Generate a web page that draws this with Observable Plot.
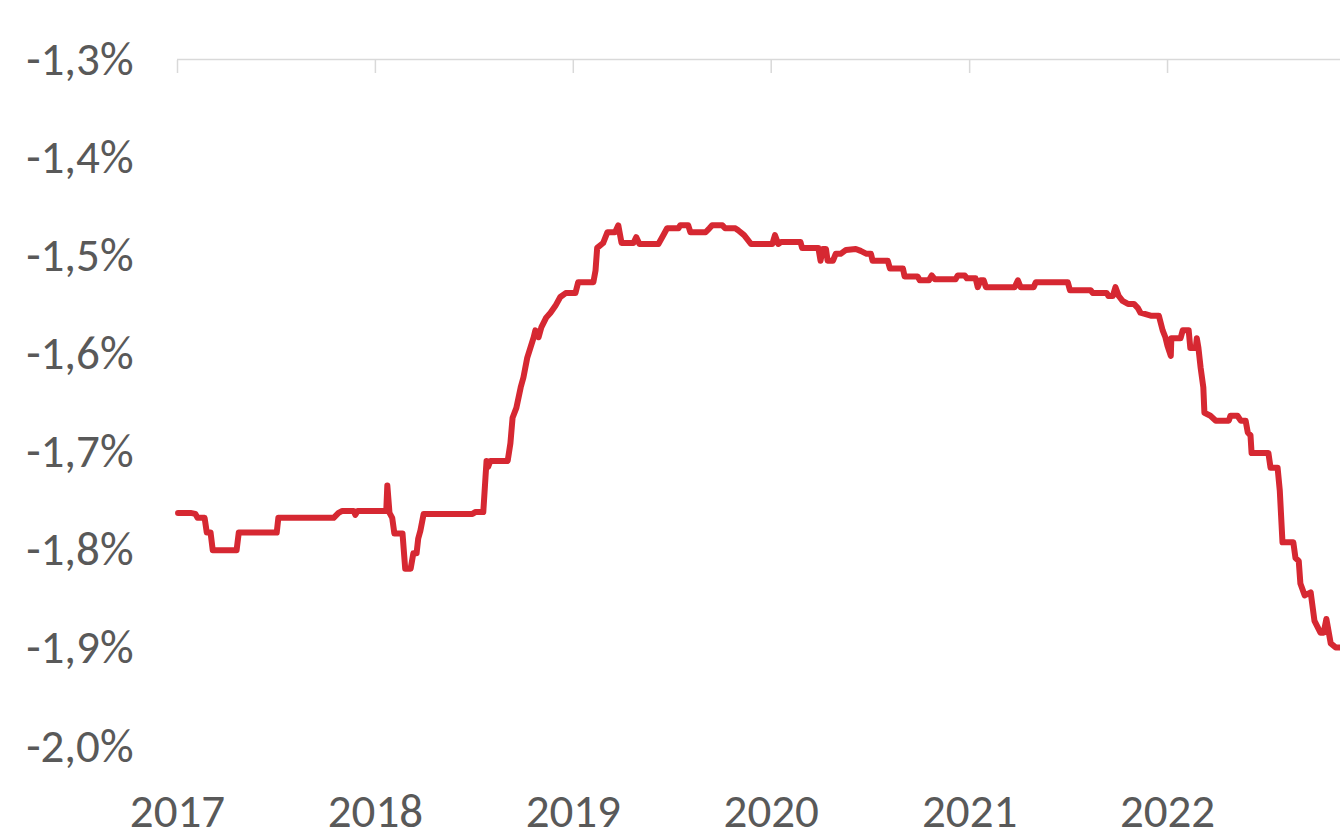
<!DOCTYPE html>
<html>
<head>
<meta charset="utf-8">
<script src="https://cdn.jsdelivr.net/npm/d3@7"></script>
<script src="https://cdn.jsdelivr.net/npm/@observablehq/plot@0.6"></script>
<style>
  html, body { margin: 0; padding: 0; background: #ffffff; }
  #chart svg { display: block; }
</style>
</head>
<body>
<div id="chart"></div>
<script>
// Spread series (in %), step-like daily fixings
const dates = [
  "2017-01-02","2017-01-25","2017-02-03","2017-02-07","2017-02-20","2017-02-24","2017-03-03","2017-03-07",
  "2017-04-20","2017-04-24","2017-07-03","2017-07-06","2017-10-16","2017-10-25","2017-11-01","2017-11-22",
  "2017-11-25","2017-11-29",
  "2018-01-21","2018-01-23","2018-01-27","2018-02-01","2018-02-05","2018-02-20","2018-02-25","2018-03-07",
  "2018-03-12","2018-03-18","2018-03-21","2018-03-25","2018-03-31","2018-06-29","2018-07-05","2018-07-19",
  "2018-07-23","2018-07-25","2018-07-28","2018-08-01","2018-09-02","2018-09-07","2018-09-11","2018-09-18",
  "2018-09-26","2018-10-01","2018-10-08","2018-10-20","2018-10-23","2018-10-29","2018-11-03","2018-11-12",
  "2018-11-20","2018-11-29","2018-12-08","2018-12-18",
  "2019-01-05","2019-01-10","2019-02-07","2019-02-11","2019-02-14","2019-02-25","2019-03-05","2019-03-19",
  "2019-03-25","2019-03-31","2019-04-22","2019-04-27","2019-05-03","2019-06-07","2019-06-16","2019-06-23",
  "2019-07-14","2019-07-17","2019-08-01","2019-08-05","2019-09-02","2019-09-09","2019-09-14","2019-10-03",
  "2019-10-08","2019-10-27","2019-11-01","2019-11-12","2019-11-25",
  "2020-01-03","2020-01-08","2020-01-14","2020-01-19","2020-02-24","2020-02-27","2020-03-28","2020-04-01",
  "2020-04-05","2020-04-11","2020-04-14","2020-04-24","2020-04-29","2020-05-08","2020-05-18","2020-06-05",
  "2020-06-14","2020-06-25","2020-07-03","2020-07-06","2020-08-03","2020-08-07","2020-08-31","2020-09-03",
  "2020-09-27","2020-10-01","2020-10-18","2020-10-23","2020-10-29","2020-12-06","2020-12-10","2020-12-23",
  "2020-12-27",
  "2021-01-12","2021-01-16","2021-01-21","2021-01-27","2021-01-31","2021-03-25","2021-03-31","2021-04-05",
  "2021-04-29","2021-05-03","2021-07-01","2021-07-05","2021-08-12","2021-08-16","2021-09-11","2021-09-14",
  "2021-09-22","2021-09-27","2021-10-03","2021-10-10","2021-10-20","2021-10-31","2021-11-07","2021-11-12",
  "2021-12-01","2021-12-16","2021-12-23","2021-12-28",
  "2022-01-01","2022-01-07","2022-01-08","2022-01-25","2022-01-29","2022-02-09","2022-02-12","2022-02-22",
  "2022-02-24","2022-02-27","2022-03-03","2022-03-08","2022-03-10","2022-03-21","2022-03-31","2022-04-24",
  "2022-04-27","2022-05-10","2022-05-16","2022-05-25","2022-05-29","2022-06-03","2022-06-05","2022-07-06",
  "2022-07-10","2022-07-23","2022-07-27","2022-08-01","2022-08-21","2022-08-25","2022-08-31","2022-09-03",
  "2022-09-11","2022-09-22","2022-09-29","2022-10-10","2022-10-16","2022-10-21","2022-10-29","2022-11-07",
  "2022-11-16"
];

const spread = [
  -1.762,-1.762,-1.763,-1.767,-1.767,-1.782,-1.782,-1.800,
  -1.800,-1.782,-1.782,-1.767,-1.767,-1.762,-1.760,-1.760,
  -1.764,-1.760,
  -1.760,-1.734,-1.762,-1.767,-1.783,-1.783,-1.819,-1.819,
  -1.803,-1.803,-1.788,-1.780,-1.763,-1.763,-1.761,-1.761,
  -1.726,-1.709,-1.715,-1.709,-1.709,-1.691,-1.665,-1.655,
  -1.634,-1.624,-1.604,-1.583,-1.576,-1.583,-1.573,-1.563,
  -1.558,-1.551,-1.542,-1.538,
  -1.538,-1.527,-1.527,-1.515,-1.492,-1.487,-1.476,-1.476,
  -1.469,-1.487,-1.487,-1.481,-1.488,-1.488,-1.479,-1.472,
  -1.472,-1.469,-1.469,-1.476,-1.476,-1.472,-1.469,-1.469,
  -1.472,-1.472,-1.474,-1.479,-1.488,
  -1.488,-1.479,-1.488,-1.486,-1.486,-1.492,-1.492,-1.505,
  -1.493,-1.493,-1.505,-1.505,-1.498,-1.498,-1.494,-1.493,
  -1.495,-1.498,-1.498,-1.505,-1.505,-1.513,-1.513,-1.521,
  -1.521,-1.525,-1.525,-1.520,-1.524,-1.524,-1.520,-1.520,
  -1.523,
  -1.523,-1.532,-1.525,-1.525,-1.532,-1.532,-1.525,-1.532,
  -1.532,-1.527,-1.527,-1.535,-1.535,-1.538,-1.538,-1.541,
  -1.541,-1.532,-1.541,-1.546,-1.549,-1.549,-1.553,-1.558,
  -1.561,-1.561,-1.576,-1.583,
  -1.592,-1.602,-1.584,-1.584,-1.576,-1.576,-1.594,-1.594,
  -1.584,-1.594,-1.614,-1.634,-1.660,-1.663,-1.668,-1.668,
  -1.663,-1.663,-1.668,-1.668,-1.680,-1.683,-1.701,-1.701,
  -1.716,-1.716,-1.739,-1.792,-1.792,-1.808,-1.811,-1.834,
  -1.846,-1.843,-1.872,-1.884,-1.884,-1.870,-1.895,-1.899,
  -1.899
];

const yTicks = [-1.3, -1.4, -1.5, -1.6, -1.7, -1.8, -1.9, -2.0];
const yearTicks = ["2017-01-01","2018-01-01","2019-01-01","2020-01-01","2021-01-01","2022-01-01"];
const xStart = "2017-01-01";
const xEnd = "2022-11-16";

const data = dates.map((d, i) => ({date: new Date(d), value: spread[i]}));
const years = yearTicks.map(d => new Date(d));

const fmtPct = v => v.toFixed(1).replace(".", ",") + "%";

const chart = Plot.plot({
  width: 1340,
  height: 832,
  marginLeft: 177,
  marginRight: 0,
  marginTop: 59,
  marginBottom: 86,
  style: {
    fontFamily: "Carlito, Calibri, 'Liberation Sans', Arial, sans-serif",
    fontSize: "47px",
    color: "#595959",
    background: "#ffffff",
    overflow: "visible"
  },
  x: {type: "utc", domain: [new Date(xStart), new Date(xEnd)]},
  y: {domain: [-2.0, -1.3]},
  marks: [
    Plot.ruleY([-1.3], {stroke: "#d9d9d9", strokeWidth: 1.5}),
    Plot.axisX({
      anchor: "top", ticks: years, tickSize: 13, dy: 13,
      tickFormat: () => "", stroke: "#d9d9d9", strokeWidth: 1.5, strokeOpacity: 1
    }),
    Plot.axisX({
      anchor: "bottom", ticks: years, tickSize: 0, tickPadding: 47,
      tickFormat: d3.utcFormat("%Y"), fill: "#595959", label: null
    }),
    Plot.axisY({
      anchor: "left", ticks: yTicks, tickSize: 0, tickPadding: 44,
      tickFormat: fmtPct, fill: "#595959", label: null
    }),
    Plot.line(data, {
      x: "date", y: "value",
      stroke: "#d62832", strokeWidth: 6,
      strokeLinejoin: "round", strokeLinecap: "round"
    })
  ]
});

document.getElementById("chart").appendChild(chart);
</script>
</body>
</html>
